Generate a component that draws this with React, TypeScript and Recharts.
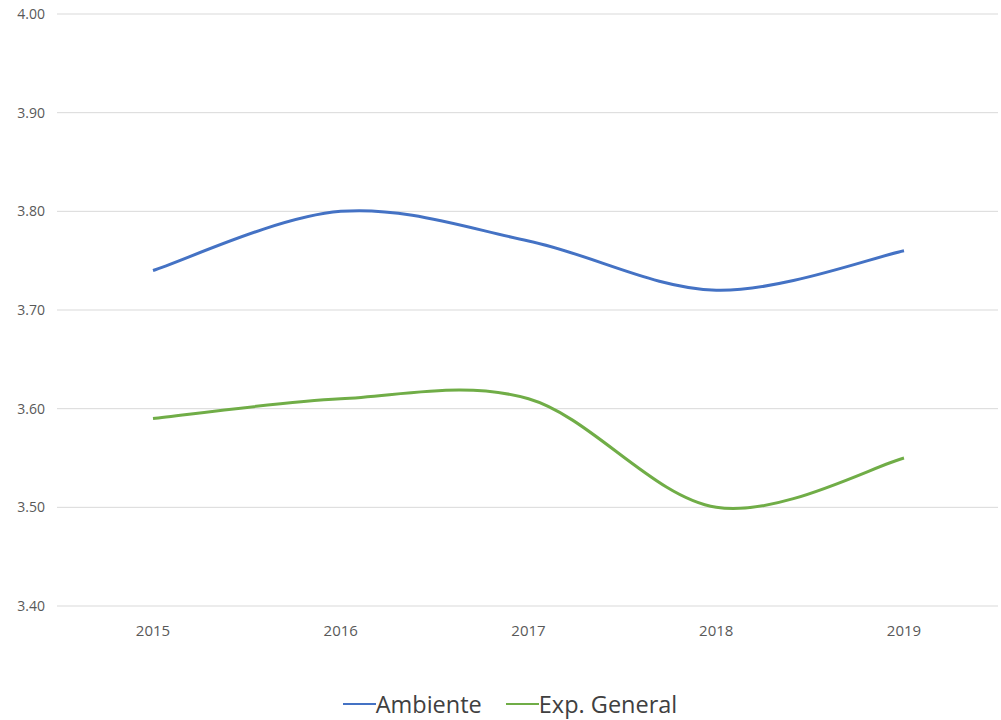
import React from 'react';
import { LineChart, Line, XAxis, YAxis, CartesianGrid, Legend } from 'recharts';

const years = ['2015', '2016', '2017', '2018', '2019'];
const ambiente = [3.74, 3.8, 3.77, 3.72, 3.76];
const expGeneral = [3.59, 3.61, 3.61, 3.5, 3.55];
const yTicks = [3.4, 3.5, 3.6, 3.7, 3.8, 3.9, 4.0];

const data = years.map((year, i) => ({
  year,
  ambiente: ambiente[i],
  expGeneral: expGeneral[i],
}));

// Excel-like smoothed line (uniform Catmull-Rom as cubic Bezier)
const excelSmooth = (context: any) => {
  let xs: number[] = [];
  let ys: number[] = [];
  return {
    areaStart() {},
    areaEnd() {},
    lineStart() {
      xs = [];
      ys = [];
    },
    lineEnd() {
      const n = xs.length;
      if (!n) return;
      context.moveTo(xs[0], ys[0]);
      if (n === 1) return;
      for (let i = 0; i < n - 1; i++) {
        const x0 = xs[Math.max(i - 1, 0)];
        const y0 = ys[Math.max(i - 1, 0)];
        const x3 = xs[Math.min(i + 2, n - 1)];
        const y3 = ys[Math.min(i + 2, n - 1)];
        const c1x = xs[i] + (xs[i + 1] - x0) / 6;
        const c1y = ys[i] + (ys[i + 1] - y0) / 6;
        const c2x = xs[i + 1] - (x3 - xs[i]) / 6;
        const c2y = ys[i + 1] - (y3 - ys[i]) / 6;
        context.bezierCurveTo(c1x, c1y, c2x, c2y, xs[i + 1], ys[i + 1]);
      }
    },
    point(x: number, y: number) {
      xs.push(+x);
      ys.push(+y);
    },
  };
};

const renderLegend = (props: any) => {
  const { payload } = props;
  return (
    <div
      style={{
        display: 'flex',
        justifyContent: 'center',
        gap: 24,
        paddingLeft: 22,
        fontFamily: 'Open Sans',
        fontSize: 23.5,
        color: '#404040',
      }}
    >
      {payload.map((entry: any) => (
        <span key={entry.value} style={{ display: 'flex', alignItems: 'center' }}>
          <svg width={33} height={10}>
            <line x1={0} y1={5} x2={33} y2={5} stroke={entry.color} strokeWidth={2} />
          </svg>
          <span>{entry.value}</span>
        </span>
      ))}
    </div>
  );
};

export default function App() {
  return (
    <div style={{ position: 'absolute', left: 0, top: 0, background: '#fff' }}>
      <LineChart
        width={1001}
        height={720}
        data={data}
        margin={{ top: 14, right: 3, left: 0, bottom: 54 }}
      >
        <CartesianGrid vertical={false} stroke="#d9d9d9" strokeWidth={1} />
        <XAxis
          dataKey="year"
          axisLine={false}
          tickLine={false}
          tickMargin={13}
          height={30}
          padding={{ left: 96, right: 94 }}
          tick={{ fill: '#595959', fontSize: 15, fontFamily: 'Open Sans' }}
        />
        <YAxis
          domain={[3.4, 4.0]}
          ticks={yTicks}
          width={57}
          axisLine={false}
          tickLine={false}
          tickMargin={6}
          tickFormatter={(v: number) => v.toFixed(2)}
          tick={{ fill: '#595959', fontSize: 14, fontFamily: 'Open Sans' }}
        />
        <Legend
          verticalAlign="bottom"
          height={30}
          content={renderLegend}
          wrapperStyle={{ bottom: 2 }}
        />
        <Line
          name="Ambiente"
          dataKey="ambiente"
          type={excelSmooth as any}
          stroke="#4472C4"
          strokeWidth={3}
          dot={false}
          activeDot={false}
          isAnimationActive={false}
        />
        <Line
          name="Exp. General"
          dataKey="expGeneral"
          type={excelSmooth as any}
          stroke="#70AD47"
          strokeWidth={3}
          dot={false}
          activeDot={false}
          isAnimationActive={false}
        />
      </LineChart>
    </div>
  );
}
